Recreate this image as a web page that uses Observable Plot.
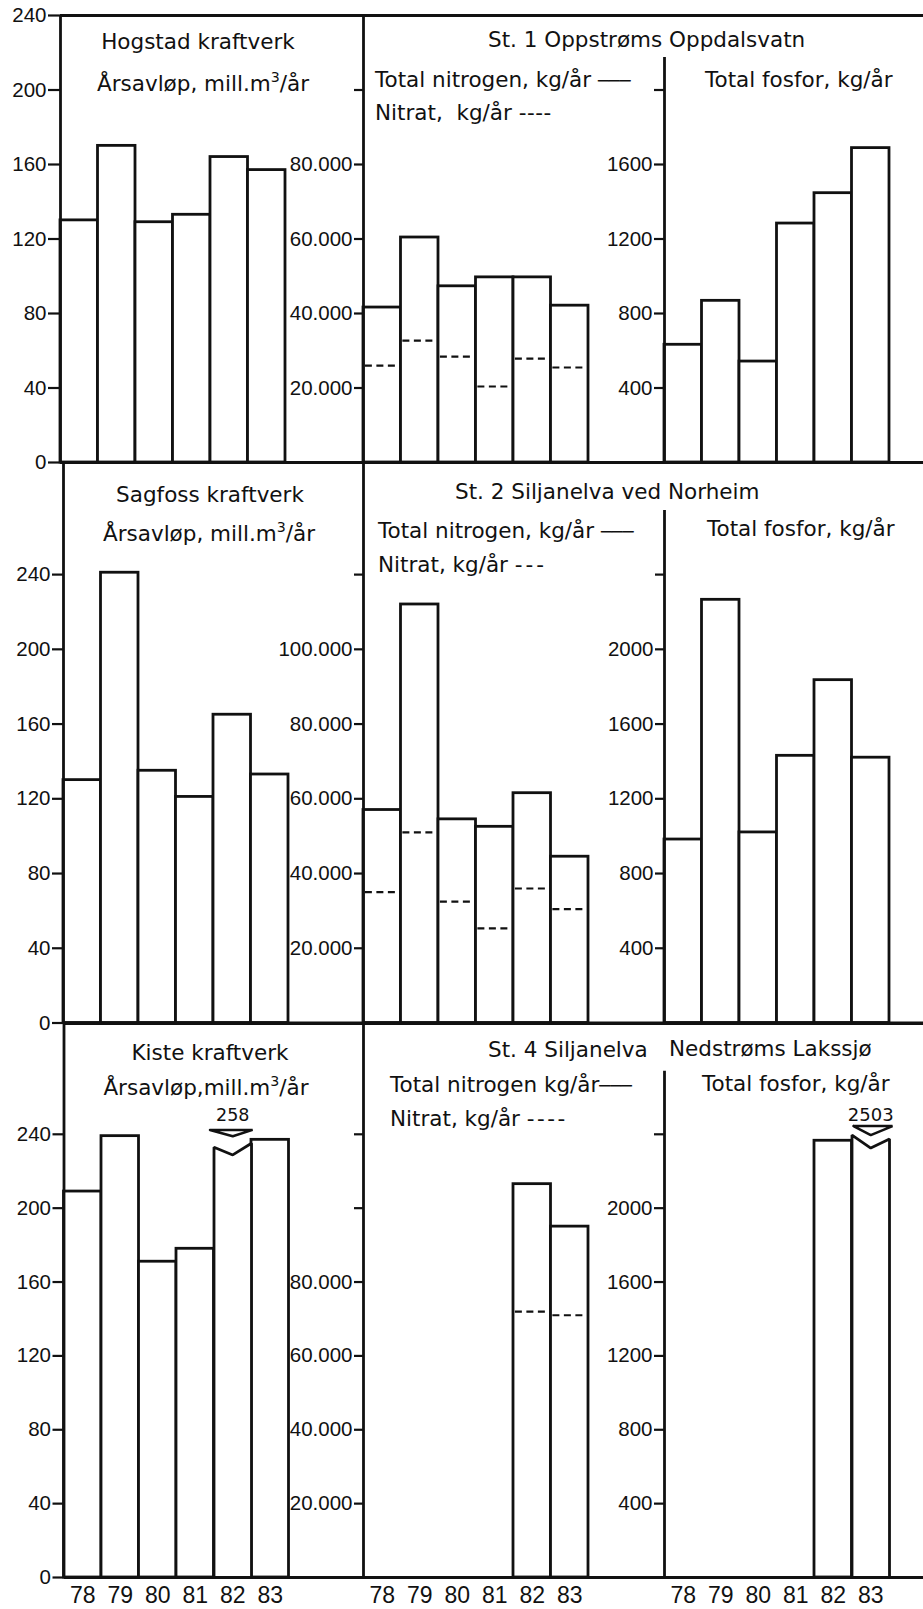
<!DOCTYPE html>
<html>
<head>
<meta charset="utf-8">
<script src="https://cdn.jsdelivr.net/npm/d3@7"></script>
<script src="https://cdn.jsdelivr.net/npm/@observablehq/plot@0.6"></script>
<style>
html, body { margin: 0; padding: 0; background: #fff; }
#fig { position: relative; width: 923px; height: 1609px; overflow: hidden; font-family: "DejaVu Sans", sans-serif; color: #111; }
#fig svg { position: absolute; }
.t { position: absolute; white-space: pre; line-height: 1; font-size: 21.5px; }
.t sup { font-size: 0.66em; line-height: 0; vertical-align: 0; position: relative; top: -0.62em; }
.sol { font-size: 18px; letter-spacing: 0; }
</style>
</head>
<body>
<div id="fig"></div>
<script>
// ---------------- data ----------------
const years = ["78", "79", "80", "81", "82", "83"];

// Årsavløp, mill. m3/år
const hogstad = [130, 170, 129, 133, 164, 157];
const sagfoss = [130, 241, 135, 121, 165, 133];
const kiste   = [209, 239, 171, 178, 258, 237];

// St. 1 Oppstrøms Oppdalsvatn
const st1Nitrogen = [41600, 60400, 47300, 49700, 49700, 42100];
const st1Nitrat   = [26000, 32700, 28400, 20400, 27900, 25500];
const st1Fosfor   = [632, 868, 542, 1283, 1446, 1688];

// St. 2 Siljanelva ved Norheim
const st2Nitrogen = [57000, 112000, 54500, 52500, 61500, 44500];
const st2Nitrat   = [35000, 51000, 32500, 25300, 36000, 30500];
const st2Fosfor   = [982, 2265, 1020, 1430, 1835, 1420];

// St. 4 Siljanelva Nedstrøms Lakssjø
const st4Nitrogen = [null, null, null, null, 106500, 95000];
const st4Nitrat   = [null, null, null, null, 72000, 71000];
const st4Fosfor   = [null, null, null, null, 2365, 2503];

// axis ticks
const qTicks = [0, 40, 80, 120, 160, 200, 240];
const nTicks1 = [20000, 40000, 60000, 80000, 100000];
const nLab1 = [20000, 40000, 60000, 80000];
const nTicks2 = [20000, 40000, 60000, 80000, 100000, 120000];
const nLab2 = [20000, 40000, 60000, 80000, 100000];
const nLab3 = [20000, 40000, 60000, 80000];
const pTicks1 = [400, 800, 1200, 1600, 2000];
const pLab1 = [400, 800, 1200, 1600];
const pTicks2 = [400, 800, 1200, 1600, 2000, 2400];
const pLab2 = [400, 800, 1200, 1600, 2000];

// ---------------- drawing ----------------
const INK = "#111";
const BAR = 37.5;
const fig = document.getElementById("fig");
const fmtN = d => d3.format(",")(d).replace(/,/g, ".");
const fmtQ = d => String(d);

function panel(p) {
  const plotW = p.right - p.axisX;
  const plotH = p.bottom - p.top;
  const mt = 16, mb = p.xLabels ? 40 : 16, ml = p.ml;
  const u = p.yMax / plotH;
  const rows = p.values.map((v, i) => ({i, v, n: p.dashed ? p.dashed[i] : null}));
  const bi = p.broken ? p.broken.i : -1;
  const marks = [
    Plot.rect(rows.filter(d => d.v != null && d.i !== bi), {
      x1: "i", x2: d => d.i + 1, y1: 0, y2: "v",
      fill: "white", stroke: INK, strokeWidth: 2.8
    })
  ];
  if (p.dashed) {
    marks.push(Plot.ruleY(rows.filter(d => d.n != null), {
      x1: d => d.i + 0.05, x2: d => d.i + 0.95, y: "n",
      stroke: INK, strokeWidth: 2.2, strokeDasharray: "7,4.5"
    }));
  }
  if (p.broken) {
    const b = p.broken, s = b.shape, i = b.i;
    const y = px => b.at + px * u;
    marks.push(Plot.line([[i, 0], [i, y(s.l)], [i + 0.5, y(s.n)], [i + 1, y(s.r)], [i + 1, 0]], {
      fill: "white", stroke: INK, strokeWidth: 2.8, strokeLinejoin: "miter"
    }));
    marks.push(Plot.line([[i + s.tl, y(s.t)], [i + 1 + s.tr, y(s.t)], [i + 0.5, y(s.a)], [i + s.tl, y(s.t)]], {
      stroke: INK, strokeWidth: 2.5, strokeLinejoin: "miter"
    }));
    marks.push(Plot.text([p.values[i]], {
      x: i + 0.5, y: y(s.txt), text: d => String(d), fontSize: s.fs, fontFamily: "DejaVu Sans", fill: INK
    }));
  }
  marks.push(Plot.ruleY([0, p.yMax], {stroke: INK, strokeWidth: 2.8}));
  marks.push(Plot.ruleX([0], {y1: 0, y2: p.axisTop != null ? p.axisTop : p.yMax, stroke: INK, strokeWidth: 2.8}));
  marks.push(Plot.axisY(p.ticks, {
    anchor: "left", tickSize: p.tickSize, tickPadding: 2, label: null,
    tickFormat: d => p.labeled.includes(d) ? p.fmt(d) : "",
    fontSize: 20.5, fontFamily: "Liberation Sans", stroke: INK, strokeWidth: 2.2, fill: INK
  }));
  if (p.xLabels) {
    marks.push(Plot.text(p.xLabels, {
      x: (d, k) => k + 0.5, frameAnchor: "bottom", dy: 25, text: d => d,
      fontSize: 23, fontFamily: "Liberation Sans", fill: INK
    }));
  }
  const svg = Plot.plot({
    width: ml + plotW, height: mt + plotH + mb,
    marginLeft: ml, marginRight: 0, marginTop: mt, marginBottom: mb,
    x: {type: "linear", domain: [0, plotW / BAR], axis: null},
    y: {type: "linear", domain: [0, p.yMax]},
    style: {fontFamily: "Liberation Sans", fontSize: "20.5px", color: INK, background: "none", overflow: "visible"},
    marks
  });
  svg.style.left = (p.axisX - ml) + "px";
  svg.style.top = (p.top - mt) + "px";
  fig.appendChild(svg);
}

const R = [
  {top: 15, bottom: 462, ax: 60},
  {top: 462, bottom: 1022.5, ax: 63},
  {top: 1022.5, bottom: 1576.5, ax: 63.5}
];
const XB = 363, XC = 664, XR = 923;

// Row 1
panel({top: R[0].top, bottom: R[0].bottom, axisX: R[0].ax, right: XB, ml: 60, yMax: 240,
  values: hogstad, ticks: qTicks, labeled: qTicks, fmt: fmtQ, tickSize: 12});
panel({top: R[0].top, bottom: R[0].bottom, axisX: XB, right: XC, ml: 90, yMax: 120000,
  values: st1Nitrogen, dashed: st1Nitrat, ticks: nTicks1, labeled: nLab1, fmt: fmtN, tickSize: 9});
panel({top: R[0].top, bottom: R[0].bottom, axisX: XC, right: XR, ml: 90, yMax: 2400, axisTop: 2175,
  values: st1Fosfor, ticks: pTicks1, labeled: pLab1, fmt: fmtQ, tickSize: 10});

// Row 2
panel({top: R[1].top, bottom: R[1].bottom, axisX: R[1].ax, right: XB, ml: 63, yMax: 300,
  values: sagfoss, ticks: qTicks, labeled: qTicks, fmt: fmtQ, tickSize: 11});
panel({top: R[1].top, bottom: R[1].bottom, axisX: XB, right: XC, ml: 90, yMax: 150000,
  values: st2Nitrogen, dashed: st2Nitrat, ticks: nTicks2, labeled: nLab2, fmt: fmtN, tickSize: 9});
panel({top: R[1].top, bottom: R[1].bottom, axisX: XC, right: XR, ml: 90, yMax: 3000, axisTop: 2743,
  values: st2Fosfor, ticks: pTicks2, labeled: pLab2, fmt: fmtQ, tickSize: 9});

// Row 3
panel({top: R[2].top, bottom: R[2].bottom, axisX: R[2].ax, right: XB, ml: 63.5, yMax: 300,
  values: kiste, ticks: qTicks, labeled: qTicks, fmt: fmtQ, tickSize: 11, xLabels: years,
  broken: {i: 4, at: 233, shape: {l: 0, n: -7.7, r: 4, t: 17.3, a: 11, tl: -0.107, tr: 0.03, txt: 31.5, fs: 17.5}}});
panel({top: R[2].top, bottom: R[2].bottom, axisX: XB, right: XC, ml: 90, yMax: 150000,
  values: st4Nitrogen, dashed: st4Nitrat, ticks: nTicks2, labeled: nLab3, fmt: fmtN, tickSize: 9, xLabels: years});
panel({top: R[2].top, bottom: R[2].bottom, axisX: XC, right: XR, ml: 90, yMax: 3000, axisTop: 2742,
  values: st4Fosfor, ticks: pTicks2, labeled: pLab2, fmt: fmtQ, tickSize: 10, xLabels: years,
  broken: {i: 5, at: 2396, shape: {l: 0, n: -13, r: -4, t: 9, a: 0, tl: 0.04, tr: 0.08, txt: 19.5, fs: 18}}});

// ---------------- titles ----------------
const titles = [
  ["Hogstad kraftverk", 198, 41.3, "c"],
  ["Årsavløp, mill.m<sup>3</sup>/år", 203, 83, "c"],
  ["St. 1 Oppstrøms Oppdalsvatn", 488, 39.2, "l"],
  ["Total nitrogen, kg/år <span class=\"sol\">───</span>", 375, 79.5, "l"],
  ["Nitrat,  kg/år <span style=\"letter-spacing:0.5px\">----</span>", 375, 112.8, "l"],
  ["Total fosfor, kg/år", 705, 79.5, "l"],

  ["Sagfoss kraftverk", 210, 494, "c"],
  ["Årsavløp, mill.m<sup>3</sup>/år", 209, 533, "c"],
  ["St. 2 Siljanelva ved Norheim", 455, 491, "l"],
  ["Total nitrogen, kg/år <span class=\"sol\">───</span>", 378, 530, "l"],
  ["Nitrat, kg/år <span style=\"letter-spacing:3px\">---</span>", 378, 564, "l"],
  ["Total fosfor, kg/år", 707, 528, "l"],

  ["Kiste kraftverk", 210, 1052, "c"],
  ["Årsavløp,mill.m<sup>3</sup>/år", 206, 1087, "c"],
  ["St. 4 Siljanelva", 488, 1049, "l"],
  ["Nedstrøms Lakssjø", 669, 1048, "l"],
  ["Total nitrogen kg/år<span class=\"sol\">───</span>", 390, 1084, "l"],
  ["Nitrat, kg/år <span style=\"letter-spacing:2.5px\">----</span>", 390, 1118.6, "l"],
  ["Total fosfor, kg/år", 702, 1083, "l"]
];
for (const [html, x, cy, a] of titles) {
  const d = document.createElement("div");
  d.className = "t";
  d.innerHTML = html;
  d.style.left = x + "px";
  d.style.top = (cy - 0.4815 * 21.5) + "px";
  if (a === "c") d.style.transform = "translateX(-50%)";
  fig.appendChild(d);
}
</script>
</body>
</html>
